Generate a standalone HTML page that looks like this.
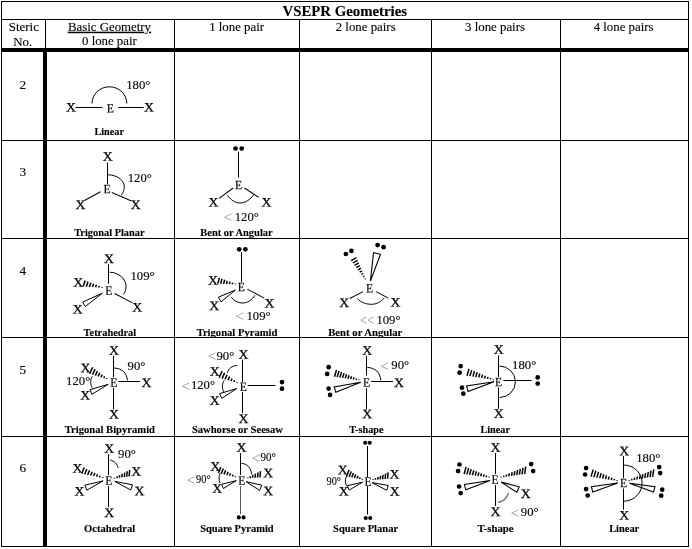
<!DOCTYPE html>
<html><head><meta charset="utf-8"><title>VSEPR Geometries</title>
<style>
html,body{margin:0;padding:0;background:#fff;}
svg{display:block;filter:grayscale(1);}
svg text{font-family:"Liberation Serif","Times New Roman",serif;fill:#000;stroke:#000;stroke-width:0.12px;}
svg tspan{stroke:none;}
svg text.xl{stroke-width:0.25px;}
svg text.el{stroke-width:0.2px;}
svg text.lt{fill:#8a8a8a;stroke:none;}
</style></head><body>
<svg width="692" height="549" viewBox="0 0 692 549">
<rect x="0" y="0" width="692" height="549" fill="#fff"/>
<rect x="1.5" y="1.5" width="687" height="545" fill="none" stroke="#000" stroke-width="1"/>
<line x1="1.0" y1="19.5" x2="689.0" y2="19.5" stroke="#000" stroke-width="1"/>
<line x1="1.0" y1="140.5" x2="689.0" y2="140.5" stroke="#000" stroke-width="1"/>
<line x1="1.0" y1="238.5" x2="689.0" y2="238.5" stroke="#000" stroke-width="1"/>
<line x1="1.0" y1="337.5" x2="689.0" y2="337.5" stroke="#000" stroke-width="1"/>
<line x1="1.0" y1="436.5" x2="689.0" y2="436.5" stroke="#000" stroke-width="1"/>
<line x1="174.5" y1="19.0" x2="174.5" y2="546.0" stroke="#000" stroke-width="1"/>
<line x1="299.5" y1="19.0" x2="299.5" y2="546.0" stroke="#000" stroke-width="1"/>
<line x1="431.5" y1="19.0" x2="431.5" y2="546.0" stroke="#000" stroke-width="1"/>
<line x1="560.5" y1="19.0" x2="560.5" y2="546.0" stroke="#000" stroke-width="1"/>
<line x1="45.5" y1="19.0" x2="45.5" y2="50.0" stroke="#000" stroke-width="1"/>
<rect x="1" y="48" width="688" height="4" fill="#000"/>
<rect x="43" y="48" width="4" height="498" fill="#000"/>
<text x="344.8" y="15.5" font-size="14.8" text-anchor="middle" font-weight="bold">VSEPR Geometries</text>
<text x="23.9" y="30.9" font-size="12.9" text-anchor="middle">Steric</text>
<text x="22.8" y="45.9" font-size="12.9" text-anchor="middle">No.</text>
<text x="109.5" y="30.8" font-size="12.85" text-anchor="middle" text-decoration="underline">Basic Geometry</text>
<text x="109.4" y="45.2" font-size="12.8" text-anchor="middle">0 lone pair</text>
<text x="236.6" y="30.8" font-size="12.85" text-anchor="middle">1 lone pair</text>
<text x="365.7" y="30.8" font-size="12.85" text-anchor="middle">2 lone pairs</text>
<text x="495.0" y="30.8" font-size="12.85" text-anchor="middle">3 lone pairs</text>
<text x="623.6" y="30.8" font-size="12.85" text-anchor="middle">4 lone pairs</text>
<text x="22.9" y="89.4" font-size="13.3" text-anchor="middle">2</text>
<text x="22.9" y="175.5" font-size="13.3" text-anchor="middle">3</text>
<text x="22.9" y="274.8" font-size="13.3" text-anchor="middle">4</text>
<text x="22.9" y="373.6" font-size="13.3" text-anchor="middle">5</text>
<text x="22.9" y="471.6" font-size="13.3" text-anchor="middle">6</text>
<text transform="translate(71.00 111.62) rotate(0.03) scale(1.07 1)" x="0" y="0" font-size="12.9" text-anchor="middle" class="xl">X</text>
<text transform="translate(110.40 112.56) rotate(0.03) scale(0.92 1)" x="0" y="0" font-size="12.7" text-anchor="middle" class="el">E</text>
<text transform="translate(149.00 111.62) rotate(0.03) scale(1.07 1)" x="0" y="0" font-size="12.9" text-anchor="middle" class="xl">X</text>
<line x1="75.5" y1="107.5" x2="102.5" y2="107.5" stroke="#000" stroke-width="1.05"/>
<line x1="118.3" y1="107.5" x2="143.7" y2="107.5" stroke="#000" stroke-width="1.05"/>
<path d="M92,103.5 A17.4,16.7 0 0 1 126.8,103.5" fill="none" stroke="#000" stroke-width="1.0"/>
<text x="126.2" y="88.7" font-size="12.7" text-anchor="start">180°</text>
<text x="109.2" y="135.2" font-size="10.21" text-anchor="middle" font-weight="bold">Linear</text>
<text transform="translate(107.60 160.72) rotate(0.03) scale(1.07 1)" x="0" y="0" font-size="12.9" text-anchor="middle" class="xl">X</text>
<text transform="translate(107.10 193.36) rotate(0.03) scale(0.92 1)" x="0" y="0" font-size="12.7" text-anchor="middle" class="el">E</text>
<text transform="translate(80.40 209.02) rotate(0.03) scale(1.07 1)" x="0" y="0" font-size="12.9" text-anchor="middle" class="xl">X</text>
<text transform="translate(135.80 209.02) rotate(0.03) scale(1.07 1)" x="0" y="0" font-size="12.9" text-anchor="middle" class="xl">X</text>
<line x1="107.5" y1="162.5" x2="107.5" y2="184.2" stroke="#000" stroke-width="1.05"/>
<line x1="100.5" y1="191.7" x2="84.5" y2="200.5" stroke="#000" stroke-width="1.05"/>
<line x1="111.8" y1="192.6" x2="131.5" y2="201.0" stroke="#000" stroke-width="1.05"/>
<path d="M108,174.8 C118,175 125,181 124.3,187.5 C124,190.5 123,193 121.2,194.8" fill="none" stroke="#000" stroke-width="1.0"/>
<text x="127.7" y="181.7" font-size="12.7" text-anchor="start">120°</text>
<text x="109.4" y="235.5" font-size="10.39" text-anchor="middle" font-weight="bold">Trigonal Planar</text>
<circle cx="235.5" cy="148.5" r="2.35" fill="#000"/>
<circle cx="241.7" cy="148.5" r="2.35" fill="#000"/>
<line x1="238.5" y1="151.6" x2="238.5" y2="177.6" stroke="#000" stroke-width="1.05"/>
<text transform="translate(238.50 189.16) rotate(0.03) scale(0.92 1)" x="0" y="0" font-size="12.7" text-anchor="middle" class="el">E</text>
<text transform="translate(213.50 206.62) rotate(0.03) scale(1.07 1)" x="0" y="0" font-size="12.9" text-anchor="middle" class="xl">X</text>
<text transform="translate(266.50 206.62) rotate(0.03) scale(1.07 1)" x="0" y="0" font-size="12.9" text-anchor="middle" class="xl">X</text>
<line x1="233.2" y1="188.0" x2="219.0" y2="198.3" stroke="#000" stroke-width="1.05"/>
<line x1="244.5" y1="188.0" x2="258.6" y2="197.3" stroke="#000" stroke-width="1.05"/>
<path d="M227.6,195.5 C231,200 235,203 239.8,203 C245,203 250,200 253.9,194.5" fill="none" stroke="#000" stroke-width="1.0"/>
<text x="223.6" y="222.1" font-size="15.5" class="lt">&lt;</text>
<text x="234.7" y="220.8" font-size="12.7">120°</text>
<text x="236.5" y="235.5" font-size="10.45" text-anchor="middle" font-weight="bold">Bent or Angular</text>
<text transform="translate(109.00 262.92) rotate(0.03) scale(1.07 1)" x="0" y="0" font-size="12.9" text-anchor="middle" class="xl">X</text>
<text transform="translate(108.90 294.66) rotate(0.03) scale(0.92 1)" x="0" y="0" font-size="12.7" text-anchor="middle" class="el">E</text>
<text transform="translate(78.20 286.72) rotate(0.03) scale(1.07 1)" x="0" y="0" font-size="12.9" text-anchor="middle" class="xl">X</text>
<text transform="translate(77.80 313.42) rotate(0.03) scale(1.07 1)" x="0" y="0" font-size="12.9" text-anchor="middle" class="xl">X</text>
<text transform="translate(137.20 311.42) rotate(0.03) scale(1.07 1)" x="0" y="0" font-size="12.9" text-anchor="middle" class="xl">X</text>
<line x1="108.5" y1="264.3" x2="108.5" y2="283.6" stroke="#000" stroke-width="1.05"/>
<line x1="83.2" y1="286.4" x2="85.2" y2="280.6" stroke="#000" stroke-width="1.5"/>
<line x1="86.3" y1="286.7" x2="88.0" y2="281.6" stroke="#000" stroke-width="1.5"/>
<line x1="89.4" y1="286.9" x2="90.8" y2="282.7" stroke="#000" stroke-width="1.5"/>
<line x1="92.5" y1="287.1" x2="93.6" y2="283.7" stroke="#000" stroke-width="1.5"/>
<line x1="95.6" y1="287.3" x2="96.4" y2="284.8" stroke="#000" stroke-width="1.5"/>
<line x1="98.7" y1="287.5" x2="99.2" y2="285.9" stroke="#000" stroke-width="1.5"/>
<line x1="101.8" y1="287.7" x2="102.0" y2="286.9" stroke="#000" stroke-width="1.5"/>
<polygon points="102.3,293.2 82.7,302.1 85.3,306.5" fill="#fff" stroke="#000" stroke-width="1.0" stroke-linejoin="miter"/>
<line x1="114.6" y1="293.5" x2="132.5" y2="302.9" stroke="#000" stroke-width="1.05"/>
<path d="M109.7,272.2 C119,272.5 126.5,279 126,287.5 C125.8,290.5 124.8,293 123,294.6" fill="none" stroke="#000" stroke-width="1.0"/>
<text x="130.5" y="280.3" font-size="12.7" text-anchor="start">109°</text>
<text x="109.9" y="335.5" font-size="10.37" text-anchor="middle" font-weight="bold">Tetrahedral</text>
<circle cx="239.2" cy="249.3" r="2.35" fill="#000"/>
<circle cx="245.4" cy="249.3" r="2.35" fill="#000"/>
<line x1="241.5" y1="252.0" x2="241.5" y2="282.2" stroke="#000" stroke-width="1.05"/>
<text transform="translate(241.30 291.36) rotate(0.03) scale(0.92 1)" x="0" y="0" font-size="12.7" text-anchor="middle" class="el">E</text>
<text transform="translate(213.00 284.72) rotate(0.03) scale(1.07 1)" x="0" y="0" font-size="12.9" text-anchor="middle" class="xl">X</text>
<text transform="translate(214.20 310.02) rotate(0.03) scale(1.07 1)" x="0" y="0" font-size="12.9" text-anchor="middle" class="xl">X</text>
<text transform="translate(269.50 307.62) rotate(0.03) scale(1.07 1)" x="0" y="0" font-size="12.9" text-anchor="middle" class="xl">X</text>
<line x1="217.8" y1="283.7" x2="219.4" y2="277.9" stroke="#000" stroke-width="1.5"/>
<line x1="220.7" y1="283.8" x2="222.0" y2="278.8" stroke="#000" stroke-width="1.5"/>
<line x1="223.6" y1="283.9" x2="224.7" y2="279.8" stroke="#000" stroke-width="1.5"/>
<line x1="226.5" y1="284.0" x2="227.3" y2="280.7" stroke="#000" stroke-width="1.5"/>
<line x1="229.3" y1="284.1" x2="230.0" y2="281.6" stroke="#000" stroke-width="1.5"/>
<line x1="232.2" y1="284.2" x2="232.6" y2="282.6" stroke="#000" stroke-width="1.5"/>
<line x1="235.1" y1="284.3" x2="235.3" y2="283.5" stroke="#000" stroke-width="1.5"/>
<polygon points="235.4,290.0 218.2,297.3 221.0,301.9" fill="#fff" stroke="#000" stroke-width="1.0" stroke-linejoin="miter"/>
<line x1="247.3" y1="289.1" x2="264.2" y2="298.1" stroke="#000" stroke-width="1.05"/>
<path d="M231.3,297.2 C234,301 238,303 242.6,303 C247.5,303 252,300 254.8,295.3" fill="none" stroke="#000" stroke-width="1.0"/>
<text x="235.2" y="321.1" font-size="15.5" class="lt">&lt;</text>
<text x="246.5" y="319.8" font-size="12.7">109°</text>
<text x="237.0" y="335.5" font-size="10.6" text-anchor="middle" font-weight="bold">Trigonal Pyramid</text>
<circle cx="345.9" cy="254.0" r="2.35" fill="#000"/>
<circle cx="351.4" cy="250.9" r="2.35" fill="#000"/>
<circle cx="377.6" cy="245.1" r="2.35" fill="#000"/>
<circle cx="383.6" cy="247.2" r="2.35" fill="#000"/>
<line x1="356.4" y1="257.7" x2="351.2" y2="260.7" stroke="#000" stroke-width="1.4"/>
<line x1="357.5" y1="260.3" x2="352.9" y2="263.0" stroke="#000" stroke-width="1.4"/>
<line x1="358.7" y1="262.9" x2="354.6" y2="265.3" stroke="#000" stroke-width="1.4"/>
<line x1="359.8" y1="265.6" x2="356.3" y2="267.6" stroke="#000" stroke-width="1.4"/>
<line x1="361.0" y1="268.2" x2="358.0" y2="269.9" stroke="#000" stroke-width="1.4"/>
<line x1="362.1" y1="270.8" x2="359.7" y2="272.2" stroke="#000" stroke-width="1.4"/>
<line x1="363.3" y1="273.4" x2="361.4" y2="274.5" stroke="#000" stroke-width="1.4"/>
<line x1="364.4" y1="276.1" x2="363.1" y2="276.8" stroke="#000" stroke-width="1.4"/>
<line x1="365.5" y1="278.7" x2="364.9" y2="279.1" stroke="#000" stroke-width="1.4"/>
<polygon points="370.4,281.1 380.5,254.3 373.5,252.7" fill="#fff" stroke="#000" stroke-width="1.1" stroke-linejoin="miter"/>
<text transform="translate(369.50 292.56) rotate(0.03) scale(0.92 1)" x="0" y="0" font-size="12.7" text-anchor="middle" class="el">E</text>
<text transform="translate(344.20 307.02) rotate(0.03) scale(1.07 1)" x="0" y="0" font-size="12.9" text-anchor="middle" class="xl">X</text>
<text transform="translate(395.50 306.52) rotate(0.03) scale(1.07 1)" x="0" y="0" font-size="12.9" text-anchor="middle" class="xl">X</text>
<line x1="363.0" y1="291.6" x2="349.8" y2="298.5" stroke="#000" stroke-width="1.05"/>
<line x1="376.1" y1="291.6" x2="388.3" y2="298.1" stroke="#000" stroke-width="1.05"/>
<path d="M357.3,298.5 C361,302.5 366,304.3 371.4,304.3 C376.5,304.3 381,302 384.2,297.8" fill="none" stroke="#000" stroke-width="1.0"/>
<text x="360.0" y="324.8" font-size="15.5" class="lt" textLength="14.2" lengthAdjust="spacingAndGlyphs">&lt;&lt;</text>
<text x="376.4" y="323.5" font-size="12.7">109°</text>
<text x="365.3" y="335.5" font-size="10.71" text-anchor="middle" font-weight="bold">Bent or Angular</text>
<text transform="translate(114.00 354.72) rotate(0.03) scale(1.07 1)" x="0" y="0" font-size="12.9" text-anchor="middle" class="xl">X</text>
<text transform="translate(114.00 418.62) rotate(0.03) scale(1.07 1)" x="0" y="0" font-size="12.9" text-anchor="middle" class="xl">X</text>
<text transform="translate(113.70 386.86) rotate(0.03) scale(0.92 1)" x="0" y="0" font-size="12.7" text-anchor="middle" class="el">E</text>
<text transform="translate(146.50 386.92) rotate(0.03) scale(1.07 1)" x="0" y="0" font-size="12.9" text-anchor="middle" class="xl">X</text>
<line x1="113.5" y1="355.8" x2="113.5" y2="377.4" stroke="#000" stroke-width="1.05"/>
<line x1="113.5" y1="387.7" x2="113.5" y2="409.3" stroke="#000" stroke-width="1.05"/>
<line x1="118.3" y1="381.5" x2="140.0" y2="381.5" stroke="#000" stroke-width="1.05"/>
<text transform="translate(85.50 372.22) rotate(0.03) scale(1.07 1)" x="0" y="0" font-size="12.9" text-anchor="middle" class="xl">X</text>
<text transform="translate(85.10 399.52) rotate(0.03) scale(1.07 1)" x="0" y="0" font-size="12.9" text-anchor="middle" class="xl">X</text>
<line x1="89.7" y1="373.9" x2="92.7" y2="367.3" stroke="#000" stroke-width="1.5"/>
<line x1="92.6" y1="374.7" x2="95.0" y2="369.1" stroke="#000" stroke-width="1.5"/>
<line x1="95.4" y1="375.6" x2="97.4" y2="371.0" stroke="#000" stroke-width="1.5"/>
<line x1="98.2" y1="376.4" x2="99.8" y2="372.8" stroke="#000" stroke-width="1.5"/>
<line x1="101.0" y1="377.3" x2="102.2" y2="374.6" stroke="#000" stroke-width="1.5"/>
<line x1="103.8" y1="378.1" x2="104.6" y2="376.4" stroke="#000" stroke-width="1.5"/>
<line x1="106.6" y1="379.0" x2="107.0" y2="378.2" stroke="#000" stroke-width="1.5"/>
<polygon points="108.2,384.3 89.9,389.7 91.9,394.3" fill="#fff" stroke="#000" stroke-width="1.0" stroke-linejoin="miter"/>
<path d="M92.3,376.3 C90.2,379.5 90.2,385 92.3,387.8" fill="none" stroke="#000" stroke-width="1.0"/>
<path d="M114,368 C122,368.3 127,373 127.4,380.4" fill="none" stroke="#000" stroke-width="1.0"/>
<text x="66.1" y="385.2" font-size="12.7" text-anchor="start">120°</text>
<text x="127.6" y="369.6" font-size="12.7" text-anchor="start">90°</text>
<text x="109.9" y="432.5" font-size="10.6" text-anchor="middle" font-weight="bold">Trigonal Bipyramid</text>
<text transform="translate(243.50 358.72) rotate(0.03) scale(1.07 1)" x="0" y="0" font-size="12.9" text-anchor="middle" class="xl">X</text>
<text transform="translate(243.50 422.92) rotate(0.03) scale(1.07 1)" x="0" y="0" font-size="12.9" text-anchor="middle" class="xl">X</text>
<text transform="translate(243.20 390.96) rotate(0.03) scale(0.92 1)" x="0" y="0" font-size="12.7" text-anchor="middle" class="el">E</text>
<line x1="242.5" y1="359.5" x2="242.5" y2="382.1" stroke="#000" stroke-width="1.05"/>
<line x1="242.5" y1="391.9" x2="242.5" y2="413.1" stroke="#000" stroke-width="1.05"/>
<line x1="247.7" y1="385.5" x2="275.5" y2="385.5" stroke="#000" stroke-width="1.05"/>
<circle cx="282.0" cy="382.1" r="2.35" fill="#000"/>
<circle cx="282.0" cy="388.7" r="2.35" fill="#000"/>
<text transform="translate(214.80 375.82) rotate(0.03) scale(1.07 1)" x="0" y="0" font-size="12.9" text-anchor="middle" class="xl">X</text>
<text transform="translate(214.60 404.72) rotate(0.03) scale(1.07 1)" x="0" y="0" font-size="12.9" text-anchor="middle" class="xl">X</text>
<line x1="219.1" y1="377.7" x2="222.1" y2="371.1" stroke="#000" stroke-width="1.5"/>
<line x1="222.1" y1="378.6" x2="224.6" y2="372.9" stroke="#000" stroke-width="1.5"/>
<line x1="225.0" y1="379.4" x2="227.1" y2="374.8" stroke="#000" stroke-width="1.5"/>
<line x1="228.0" y1="380.3" x2="229.6" y2="376.6" stroke="#000" stroke-width="1.5"/>
<line x1="230.9" y1="381.1" x2="232.1" y2="378.5" stroke="#000" stroke-width="1.5"/>
<line x1="233.9" y1="382.0" x2="234.6" y2="380.3" stroke="#000" stroke-width="1.5"/>
<line x1="236.8" y1="382.9" x2="237.2" y2="382.1" stroke="#000" stroke-width="1.5"/>
<polygon points="236.6,388.6 219.6,393.6 221.8,398.4" fill="#fff" stroke="#000" stroke-width="1.0" stroke-linejoin="miter"/>
<text x="207.5" y="361.2" font-size="15.5" class="lt">&lt;</text>
<text x="216.5" y="359.9" font-size="12.7">90°</text>
<path d="M237.2,365.4 C232,365.8 228.3,368.5 227.5,372.8" fill="none" stroke="#000" stroke-width="1.0"/>
<text x="181.2" y="390.6" font-size="15.5" class="lt">&lt;</text>
<text x="190.9" y="389.3" font-size="12.7">120°</text>
<path d="M224.2,380.5 C221.8,383.5 221.8,389.5 224.2,392.5" fill="none" stroke="#000" stroke-width="1.0"/>
<text x="237.4" y="432.5" font-size="10.6" text-anchor="middle" font-weight="bold">Sawhorse or Seesaw</text>
<text transform="translate(367.10 354.72) rotate(0.03) scale(1.07 1)" x="0" y="0" font-size="12.9" text-anchor="middle" class="xl">X</text>
<text transform="translate(367.10 418.22) rotate(0.03) scale(1.07 1)" x="0" y="0" font-size="12.9" text-anchor="middle" class="xl">X</text>
<text transform="translate(366.60 386.86) rotate(0.03) scale(0.92 1)" x="0" y="0" font-size="12.7" text-anchor="middle" class="el">E</text>
<text transform="translate(399.00 386.92) rotate(0.03) scale(1.07 1)" x="0" y="0" font-size="12.9" text-anchor="middle" class="xl">X</text>
<line x1="366.5" y1="355.8" x2="366.5" y2="375.5" stroke="#000" stroke-width="1.05"/>
<line x1="366.5" y1="388.2" x2="366.5" y2="409.3" stroke="#000" stroke-width="1.05"/>
<line x1="371.2" y1="381.5" x2="393.0" y2="381.5" stroke="#000" stroke-width="1.05"/>
<path d="M367.3,367.4 C375,367.8 380.4,372.5 380.8,380.2" fill="none" stroke="#000" stroke-width="1.0"/>
<text x="380.0" y="370.6" font-size="15.5" class="lt">&lt;</text>
<text x="391.3" y="369.3" font-size="12.7">90°</text>
<circle cx="328.7" cy="367.2" r="2.35" fill="#000"/>
<circle cx="327.2" cy="373.9" r="2.35" fill="#000"/>
<circle cx="328.6" cy="388.6" r="2.35" fill="#000"/>
<circle cx="330.1" cy="394.9" r="2.35" fill="#000"/>
<line x1="336.5" y1="369.9" x2="334.5" y2="376.7" stroke="#000" stroke-width="1.5"/>
<line x1="339.0" y1="371.0" x2="337.2" y2="377.1" stroke="#000" stroke-width="1.5"/>
<line x1="341.5" y1="372.1" x2="339.9" y2="377.5" stroke="#000" stroke-width="1.5"/>
<line x1="344.0" y1="373.1" x2="342.6" y2="377.9" stroke="#000" stroke-width="1.5"/>
<line x1="346.5" y1="374.2" x2="345.3" y2="378.3" stroke="#000" stroke-width="1.5"/>
<line x1="349.0" y1="375.3" x2="348.0" y2="378.7" stroke="#000" stroke-width="1.5"/>
<line x1="351.5" y1="376.3" x2="350.7" y2="379.1" stroke="#000" stroke-width="1.5"/>
<line x1="354.0" y1="377.4" x2="353.4" y2="379.5" stroke="#000" stroke-width="1.5"/>
<line x1="356.5" y1="378.5" x2="356.1" y2="379.9" stroke="#000" stroke-width="1.5"/>
<line x1="359.0" y1="379.5" x2="358.8" y2="380.3" stroke="#000" stroke-width="1.5"/>
<polygon points="360.7,382.3 334.2,386.9 335.8,392.3" fill="#fff" stroke="#000" stroke-width="1.1" stroke-linejoin="miter"/>
<text x="366.4" y="432.5" font-size="10.26" text-anchor="middle" font-weight="bold">T-shape</text>
<text transform="translate(498.60 353.72) rotate(0.03) scale(1.07 1)" x="0" y="0" font-size="12.9" text-anchor="middle" class="xl">X</text>
<text transform="translate(498.60 417.72) rotate(0.03) scale(1.07 1)" x="0" y="0" font-size="12.9" text-anchor="middle" class="xl">X</text>
<text transform="translate(498.60 386.26) rotate(0.03) scale(0.92 1)" x="0" y="0" font-size="12.7" text-anchor="middle" class="el">E</text>
<line x1="498.5" y1="355.4" x2="498.5" y2="376.8" stroke="#000" stroke-width="1.05"/>
<line x1="498.5" y1="387.4" x2="498.5" y2="408.8" stroke="#000" stroke-width="1.05"/>
<line x1="503.3" y1="380.5" x2="531.5" y2="380.5" stroke="#000" stroke-width="1.05"/>
<circle cx="537.7" cy="377.4" r="2.35" fill="#000"/>
<circle cx="537.7" cy="383.6" r="2.35" fill="#000"/>
<path d="M499.6,366.1 A15.8,15.7 0 0 1 499.6,397.5" fill="none" stroke="#000" stroke-width="1.0"/>
<text x="512.1" y="368.7" font-size="12.7" text-anchor="start">180°</text>
<circle cx="460.7" cy="366.1" r="2.35" fill="#000"/>
<circle cx="459.6" cy="372.7" r="2.35" fill="#000"/>
<circle cx="462.0" cy="387.7" r="2.35" fill="#000"/>
<circle cx="463.3" cy="393.7" r="2.35" fill="#000"/>
<line x1="469.0" y1="368.9" x2="467.0" y2="375.7" stroke="#000" stroke-width="1.5"/>
<line x1="471.7" y1="370.1" x2="469.9" y2="376.1" stroke="#000" stroke-width="1.5"/>
<line x1="474.4" y1="371.2" x2="472.9" y2="376.6" stroke="#000" stroke-width="1.5"/>
<line x1="477.1" y1="372.3" x2="475.8" y2="377.1" stroke="#000" stroke-width="1.5"/>
<line x1="479.8" y1="373.5" x2="478.7" y2="377.5" stroke="#000" stroke-width="1.5"/>
<line x1="482.5" y1="374.6" x2="481.6" y2="378.0" stroke="#000" stroke-width="1.5"/>
<line x1="485.3" y1="375.7" x2="484.5" y2="378.5" stroke="#000" stroke-width="1.5"/>
<line x1="488.0" y1="376.9" x2="487.4" y2="378.9" stroke="#000" stroke-width="1.5"/>
<line x1="490.7" y1="378.0" x2="490.3" y2="379.4" stroke="#000" stroke-width="1.5"/>
<line x1="493.4" y1="379.1" x2="493.2" y2="379.9" stroke="#000" stroke-width="1.5"/>
<polygon points="494.0,381.7 466.6,386.0 468.0,391.4" fill="#fff" stroke="#000" stroke-width="1.1" stroke-linejoin="miter"/>
<text x="495.2" y="432.5" font-size="10.25" text-anchor="middle" font-weight="bold">Linear</text>
<text transform="translate(109.10 452.82) rotate(0.03) scale(1.07 1)" x="0" y="0" font-size="12.9" text-anchor="middle" class="xl">X</text>
<text transform="translate(109.10 517.02) rotate(0.03) scale(1.07 1)" x="0" y="0" font-size="12.9" text-anchor="middle" class="xl">X</text>
<text transform="translate(108.70 484.66) rotate(0.03) scale(0.92 1)" x="0" y="0" font-size="12.7" text-anchor="middle" class="el">E</text>
<line x1="108.5" y1="454.0" x2="108.5" y2="475.1" stroke="#000" stroke-width="1.05"/>
<line x1="108.5" y1="486.1" x2="108.5" y2="507.1" stroke="#000" stroke-width="1.05"/>
<text transform="translate(77.40 472.52) rotate(0.03) scale(1.07 1)" x="0" y="0" font-size="12.9" text-anchor="middle" class="xl">X</text>
<text transform="translate(136.20 475.82) rotate(0.03) scale(1.07 1)" x="0" y="0" font-size="12.9" text-anchor="middle" class="xl">X</text>
<text transform="translate(79.40 495.42) rotate(0.03) scale(1.07 1)" x="0" y="0" font-size="12.9" text-anchor="middle" class="xl">X</text>
<text transform="translate(139.40 495.32) rotate(0.03) scale(1.07 1)" x="0" y="0" font-size="12.9" text-anchor="middle" class="xl">X</text>
<line x1="81.8" y1="473.8" x2="84.2" y2="467.6" stroke="#000" stroke-width="1.5"/>
<line x1="84.7" y1="474.3" x2="86.9" y2="469.0" stroke="#000" stroke-width="1.5"/>
<line x1="87.7" y1="474.9" x2="89.5" y2="470.3" stroke="#000" stroke-width="1.5"/>
<line x1="90.6" y1="475.5" x2="92.2" y2="471.7" stroke="#000" stroke-width="1.5"/>
<line x1="93.6" y1="476.1" x2="94.8" y2="473.0" stroke="#000" stroke-width="1.5"/>
<line x1="96.5" y1="476.6" x2="97.5" y2="474.3" stroke="#000" stroke-width="1.5"/>
<line x1="99.5" y1="477.2" x2="100.1" y2="475.7" stroke="#000" stroke-width="1.5"/>
<line x1="102.5" y1="477.8" x2="102.7" y2="477.0" stroke="#000" stroke-width="1.5"/>
<line x1="129.1" y1="476.4" x2="129.7" y2="470.0" stroke="#000" stroke-width="1.5"/>
<line x1="126.7" y1="476.7" x2="127.2" y2="471.3" stroke="#000" stroke-width="1.5"/>
<line x1="124.3" y1="477.1" x2="124.7" y2="472.6" stroke="#000" stroke-width="1.5"/>
<line x1="121.8" y1="477.4" x2="122.2" y2="473.9" stroke="#000" stroke-width="1.5"/>
<line x1="119.4" y1="477.8" x2="119.6" y2="475.1" stroke="#000" stroke-width="1.5"/>
<line x1="117.0" y1="478.1" x2="117.1" y2="476.4" stroke="#000" stroke-width="1.5"/>
<line x1="114.6" y1="478.5" x2="114.6" y2="477.7" stroke="#000" stroke-width="1.5"/>
<polygon points="103.1,480.9 84.8,485.2 86.8,490.2" fill="#fff" stroke="#000" stroke-width="1.0" stroke-linejoin="miter"/>
<polygon points="114.8,481.4 130.7,490.0 132.5,484.8" fill="#fff" stroke="#000" stroke-width="1.0" stroke-linejoin="miter"/>
<path d="M110.1,460 C114.5,461 117.5,464 118.1,468" fill="none" stroke="#000" stroke-width="1.0"/>
<text x="118.1" y="457.6" font-size="12.7" text-anchor="start">90°</text>
<text x="109.6" y="532.3" font-size="10.57" text-anchor="middle" font-weight="bold">Octahedral</text>
<text transform="translate(241.50 451.82) rotate(0.03) scale(1.07 1)" x="0" y="0" font-size="12.9" text-anchor="middle" class="xl">X</text>
<text transform="translate(241.70 484.86) rotate(0.03) scale(0.92 1)" x="0" y="0" font-size="12.7" text-anchor="middle" class="el">E</text>
<line x1="240.5" y1="453.0" x2="240.5" y2="475.1" stroke="#000" stroke-width="1.05"/>
<line x1="240.5" y1="486.1" x2="240.5" y2="514.2" stroke="#555" stroke-width="1"/>
<circle cx="238.8" cy="517.4" r="2.05" fill="#000"/>
<circle cx="243.6" cy="517.4" r="2.05" fill="#000"/>
<text transform="translate(215.10 470.72) rotate(0.03) scale(1.07 1)" x="0" y="0" font-size="12.9" text-anchor="middle" class="xl">X</text>
<text transform="translate(268.20 477.32) rotate(0.03) scale(1.07 1)" x="0" y="0" font-size="12.9" text-anchor="middle" class="xl">X</text>
<text transform="translate(217.10 492.72) rotate(0.03) scale(1.07 1)" x="0" y="0" font-size="12.9" text-anchor="middle" class="xl">X</text>
<text transform="translate(268.20 495.32) rotate(0.03) scale(1.07 1)" x="0" y="0" font-size="12.9" text-anchor="middle" class="xl">X</text>
<line x1="218.4" y1="473.1" x2="220.8" y2="466.9" stroke="#000" stroke-width="1.5"/>
<line x1="221.2" y1="473.7" x2="223.3" y2="468.5" stroke="#000" stroke-width="1.5"/>
<line x1="224.0" y1="474.4" x2="225.7" y2="470.1" stroke="#000" stroke-width="1.5"/>
<line x1="226.8" y1="475.1" x2="228.2" y2="471.7" stroke="#000" stroke-width="1.5"/>
<line x1="229.6" y1="475.8" x2="230.6" y2="473.3" stroke="#000" stroke-width="1.5"/>
<line x1="232.4" y1="476.5" x2="233.1" y2="474.8" stroke="#000" stroke-width="1.5"/>
<line x1="235.3" y1="477.2" x2="235.5" y2="476.4" stroke="#000" stroke-width="1.5"/>
<line x1="259.9" y1="477.5" x2="260.5" y2="471.1" stroke="#000" stroke-width="1.5"/>
<line x1="257.5" y1="477.6" x2="258.0" y2="472.4" stroke="#000" stroke-width="1.5"/>
<line x1="255.1" y1="477.8" x2="255.4" y2="473.6" stroke="#000" stroke-width="1.5"/>
<line x1="252.6" y1="477.9" x2="252.9" y2="474.9" stroke="#000" stroke-width="1.5"/>
<line x1="250.2" y1="478.1" x2="250.4" y2="476.1" stroke="#000" stroke-width="1.5"/>
<line x1="247.8" y1="478.2" x2="247.8" y2="477.4" stroke="#000" stroke-width="1.5"/>
<polygon points="236.3,480.6 221.6,484.3 223.4,488.5" fill="#fff" stroke="#000" stroke-width="1.0" stroke-linejoin="miter"/>
<polygon points="246.1,481.7 259.6,490.4 261.8,485.2" fill="#fff" stroke="#000" stroke-width="1.0" stroke-linejoin="miter"/>
<path d="M241.5,463.3 C247.5,463.8 251,468 251.6,474.5" fill="none" stroke="#000" stroke-width="1.0"/>
<text x="251.4" y="462.6" font-size="15.5" class="lt">&lt;</text>
<text x="260.5" y="461.3" font-size="12.4" textLength="15.3" lengthAdjust="spacingAndGlyphs">90°</text>
<text x="186.4" y="484.7" font-size="15.5" class="lt">&lt;</text>
<text x="196.1" y="483.4" font-size="12.4" textLength="14.6" lengthAdjust="spacingAndGlyphs">90°</text>
<path d="M220.2,473.1 C218.6,476 218.6,480.5 220.2,483.1" fill="none" stroke="#000" stroke-width="1.0"/>
<text x="236.9" y="532.3" font-size="10.49" text-anchor="middle" font-weight="bold">Square Pyramid</text>
<circle cx="365.2" cy="442.8" r="2.05" fill="#000"/>
<circle cx="369.7" cy="442.8" r="2.05" fill="#000"/>
<circle cx="365.7" cy="518.0" r="2.05" fill="#000"/>
<circle cx="370.2" cy="518.0" r="2.05" fill="#000"/>
<line x1="367.5" y1="446.0" x2="367.5" y2="477.1" stroke="#000" stroke-width="1.05"/>
<line x1="367.5" y1="486.1" x2="367.5" y2="514.5" stroke="#000" stroke-width="1.05"/>
<text transform="translate(368.00 485.86) rotate(0.03) scale(0.92 1)" x="0" y="0" font-size="12.7" text-anchor="middle" class="el">E</text>
<text transform="translate(342.80 474.22) rotate(0.03) scale(1.07 1)" x="0" y="0" font-size="12.9" text-anchor="middle" class="xl">X</text>
<text transform="translate(394.40 478.42) rotate(0.03) scale(1.07 1)" x="0" y="0" font-size="12.9" text-anchor="middle" class="xl">X</text>
<text transform="translate(343.60 495.52) rotate(0.03) scale(1.07 1)" x="0" y="0" font-size="12.9" text-anchor="middle" class="xl">X</text>
<text transform="translate(394.70 495.82) rotate(0.03) scale(1.07 1)" x="0" y="0" font-size="12.9" text-anchor="middle" class="xl">X</text>
<line x1="346.5" y1="476.4" x2="349.1" y2="470.0" stroke="#000" stroke-width="1.5"/>
<line x1="349.1" y1="476.9" x2="351.3" y2="471.5" stroke="#000" stroke-width="1.5"/>
<line x1="351.7" y1="477.4" x2="353.5" y2="473.0" stroke="#000" stroke-width="1.5"/>
<line x1="354.3" y1="478.0" x2="355.8" y2="474.4" stroke="#000" stroke-width="1.5"/>
<line x1="356.9" y1="478.5" x2="358.0" y2="475.9" stroke="#000" stroke-width="1.5"/>
<line x1="359.5" y1="479.0" x2="360.2" y2="477.4" stroke="#000" stroke-width="1.5"/>
<line x1="362.2" y1="479.6" x2="362.4" y2="478.8" stroke="#000" stroke-width="1.5"/>
<line x1="387.5" y1="478.8" x2="388.1" y2="472.4" stroke="#000" stroke-width="1.5"/>
<line x1="385.1" y1="479.0" x2="385.6" y2="473.5" stroke="#000" stroke-width="1.5"/>
<line x1="382.7" y1="479.2" x2="383.1" y2="474.7" stroke="#000" stroke-width="1.5"/>
<line x1="380.2" y1="479.4" x2="380.6" y2="475.8" stroke="#000" stroke-width="1.5"/>
<line x1="377.8" y1="479.6" x2="378.0" y2="476.9" stroke="#000" stroke-width="1.5"/>
<line x1="375.4" y1="479.8" x2="375.5" y2="478.1" stroke="#000" stroke-width="1.5"/>
<line x1="373.0" y1="480.0" x2="373.0" y2="479.2" stroke="#000" stroke-width="1.5"/>
<polygon points="362.5,482.2 347.4,485.7 349.2,490.1" fill="#fff" stroke="#000" stroke-width="1.0" stroke-linejoin="miter"/>
<polygon points="372.0,482.6 386.7,490.3 388.3,485.5" fill="#fff" stroke="#000" stroke-width="1.0" stroke-linejoin="miter"/>
<text x="326.5" y="485.4" font-size="12.4" textLength="14.4" lengthAdjust="spacingAndGlyphs">90°</text>
<path d="M346.6,476.1 C345,479 345,483.5 346.6,486.1" fill="none" stroke="#000" stroke-width="1.0"/>
<text x="365.6" y="532.3" font-size="10.54" text-anchor="middle" font-weight="bold">Square Planar</text>
<text transform="translate(495.50 451.82) rotate(0.03) scale(1.07 1)" x="0" y="0" font-size="12.9" text-anchor="middle" class="xl">X</text>
<text transform="translate(495.50 516.02) rotate(0.03) scale(1.07 1)" x="0" y="0" font-size="12.9" text-anchor="middle" class="xl">X</text>
<text transform="translate(495.10 483.86) rotate(0.03) scale(0.92 1)" x="0" y="0" font-size="12.7" text-anchor="middle" class="el">E</text>
<line x1="495.5" y1="453.0" x2="495.5" y2="474.1" stroke="#000" stroke-width="1.05"/>
<line x1="495.5" y1="485.1" x2="495.5" y2="506.1" stroke="#000" stroke-width="1.05"/>
<circle cx="459.5" cy="464.5" r="2.35" fill="#000"/>
<circle cx="458.1" cy="471.1" r="2.35" fill="#000"/>
<circle cx="459.1" cy="486.5" r="2.35" fill="#000"/>
<circle cx="460.7" cy="493.1" r="2.35" fill="#000"/>
<circle cx="531.2" cy="464.1" r="2.35" fill="#000"/>
<circle cx="533.2" cy="471.1" r="2.35" fill="#000"/>
<line x1="466.1" y1="466.9" x2="464.1" y2="474.1" stroke="#000" stroke-width="1.5"/>
<line x1="468.7" y1="468.0" x2="466.9" y2="474.4" stroke="#000" stroke-width="1.5"/>
<line x1="471.2" y1="469.1" x2="469.6" y2="474.8" stroke="#000" stroke-width="1.5"/>
<line x1="473.8" y1="470.2" x2="472.4" y2="475.2" stroke="#000" stroke-width="1.5"/>
<line x1="476.4" y1="471.3" x2="475.2" y2="475.6" stroke="#000" stroke-width="1.5"/>
<line x1="478.9" y1="472.4" x2="477.9" y2="476.0" stroke="#000" stroke-width="1.5"/>
<line x1="481.5" y1="473.5" x2="480.7" y2="476.3" stroke="#000" stroke-width="1.5"/>
<line x1="484.1" y1="474.5" x2="483.5" y2="476.7" stroke="#000" stroke-width="1.5"/>
<line x1="486.6" y1="475.6" x2="486.2" y2="477.1" stroke="#000" stroke-width="1.5"/>
<line x1="489.2" y1="476.7" x2="489.0" y2="477.5" stroke="#000" stroke-width="1.5"/>
<line x1="524.7" y1="474.0" x2="525.7" y2="466.6" stroke="#000" stroke-width="1.5"/>
<line x1="522.1" y1="474.4" x2="523.0" y2="467.8" stroke="#000" stroke-width="1.5"/>
<line x1="519.4" y1="474.7" x2="520.3" y2="468.9" stroke="#000" stroke-width="1.5"/>
<line x1="516.8" y1="475.1" x2="517.5" y2="470.0" stroke="#000" stroke-width="1.5"/>
<line x1="514.2" y1="475.5" x2="514.8" y2="471.1" stroke="#000" stroke-width="1.5"/>
<line x1="511.6" y1="475.9" x2="512.1" y2="472.2" stroke="#000" stroke-width="1.5"/>
<line x1="508.9" y1="476.3" x2="509.3" y2="473.3" stroke="#000" stroke-width="1.5"/>
<line x1="506.3" y1="476.7" x2="506.6" y2="474.5" stroke="#000" stroke-width="1.5"/>
<line x1="503.7" y1="477.1" x2="503.9" y2="475.6" stroke="#000" stroke-width="1.5"/>
<line x1="501.0" y1="477.5" x2="501.2" y2="476.7" stroke="#000" stroke-width="1.5"/>
<polygon points="490.1,480.5 464.4,484.4 465.8,489.8" fill="#fff" stroke="#000" stroke-width="1.1" stroke-linejoin="miter"/>
<polygon points="501.1,482.1 516.8,492.2 519.2,486.8" fill="#fff" stroke="#000" stroke-width="1.1" stroke-linejoin="miter"/>
<text transform="translate(525.60 497.92) rotate(0.03) scale(1.07 1)" x="0" y="0" font-size="12.9" text-anchor="middle" class="xl">X</text>
<path d="M508.4,492.9 C507.2,498 503.5,501.5 498.1,502.3" fill="none" stroke="#777" stroke-width="1.5"/>
<text x="510.5" y="517.5" font-size="15.5" class="lt">&lt;</text>
<text x="520.8" y="516.2" font-size="12.7">90°</text>
<text x="495.6" y="532.3" font-size="10.76" text-anchor="middle" font-weight="bold">T-shape</text>
<text transform="translate(624.10 455.22) rotate(0.03) scale(1.07 1)" x="0" y="0" font-size="12.9" text-anchor="middle" class="xl">X</text>
<text transform="translate(624.10 519.42) rotate(0.03) scale(1.07 1)" x="0" y="0" font-size="12.9" text-anchor="middle" class="xl">X</text>
<text transform="translate(623.50 487.26) rotate(0.03) scale(0.92 1)" x="0" y="0" font-size="12.7" text-anchor="middle" class="el">E</text>
<line x1="623.5" y1="456.0" x2="623.5" y2="478.1" stroke="#000" stroke-width="1.05"/>
<line x1="623.5" y1="488.5" x2="623.5" y2="509.7" stroke="#000" stroke-width="1.05"/>
<circle cx="586.1" cy="468.1" r="2.35" fill="#000"/>
<circle cx="585.1" cy="474.5" r="2.35" fill="#000"/>
<circle cx="586.1" cy="489.1" r="2.35" fill="#000"/>
<circle cx="587.7" cy="495.5" r="2.35" fill="#000"/>
<circle cx="659.2" cy="467.1" r="2.35" fill="#000"/>
<circle cx="660.2" cy="473.1" r="2.35" fill="#000"/>
<circle cx="662.2" cy="489.7" r="2.35" fill="#000"/>
<circle cx="661.2" cy="495.7" r="2.35" fill="#000"/>
<line x1="593.2" y1="469.6" x2="591.0" y2="476.6" stroke="#000" stroke-width="1.5"/>
<line x1="595.8" y1="470.7" x2="593.9" y2="477.1" stroke="#000" stroke-width="1.5"/>
<line x1="598.5" y1="471.9" x2="596.8" y2="477.6" stroke="#000" stroke-width="1.5"/>
<line x1="601.2" y1="473.1" x2="599.7" y2="478.1" stroke="#000" stroke-width="1.5"/>
<line x1="603.8" y1="474.2" x2="602.6" y2="478.5" stroke="#000" stroke-width="1.5"/>
<line x1="606.5" y1="475.4" x2="605.5" y2="479.0" stroke="#000" stroke-width="1.5"/>
<line x1="609.2" y1="476.6" x2="608.3" y2="479.5" stroke="#000" stroke-width="1.5"/>
<line x1="611.9" y1="477.8" x2="611.2" y2="479.9" stroke="#000" stroke-width="1.5"/>
<line x1="614.5" y1="478.9" x2="614.1" y2="480.4" stroke="#000" stroke-width="1.5"/>
<line x1="617.2" y1="480.1" x2="617.0" y2="480.9" stroke="#000" stroke-width="1.5"/>
<line x1="652.7" y1="476.8" x2="653.7" y2="469.4" stroke="#000" stroke-width="1.5"/>
<line x1="650.1" y1="477.2" x2="651.0" y2="470.6" stroke="#000" stroke-width="1.5"/>
<line x1="647.4" y1="477.7" x2="648.3" y2="471.8" stroke="#000" stroke-width="1.5"/>
<line x1="644.8" y1="478.1" x2="645.5" y2="473.0" stroke="#000" stroke-width="1.5"/>
<line x1="642.2" y1="478.6" x2="642.8" y2="474.2" stroke="#000" stroke-width="1.5"/>
<line x1="639.6" y1="479.1" x2="640.1" y2="475.4" stroke="#000" stroke-width="1.5"/>
<line x1="636.9" y1="479.5" x2="637.3" y2="476.5" stroke="#000" stroke-width="1.5"/>
<line x1="634.3" y1="480.0" x2="634.6" y2="477.7" stroke="#000" stroke-width="1.5"/>
<line x1="631.7" y1="480.4" x2="631.9" y2="478.9" stroke="#000" stroke-width="1.5"/>
<line x1="629.0" y1="480.9" x2="629.2" y2="480.1" stroke="#000" stroke-width="1.5"/>
<polygon points="617.8,483.0 591.4,486.7 592.8,492.1" fill="#fff" stroke="#000" stroke-width="1.1" stroke-linejoin="miter"/>
<polygon points="629.6,483.2 653.5,492.1 654.9,486.7" fill="#fff" stroke="#000" stroke-width="1.1" stroke-linejoin="miter"/>
<path d="M624.1,465.1 A18,18 0 0 1 624.1,501.1" fill="none" stroke="#000" stroke-width="1.0"/>
<text x="636.2" y="462.0" font-size="12.7" text-anchor="start">180°</text>
<text x="624.2" y="532.3" font-size="10.42" text-anchor="middle" font-weight="bold">Linear</text>
</svg>
</body></html>
